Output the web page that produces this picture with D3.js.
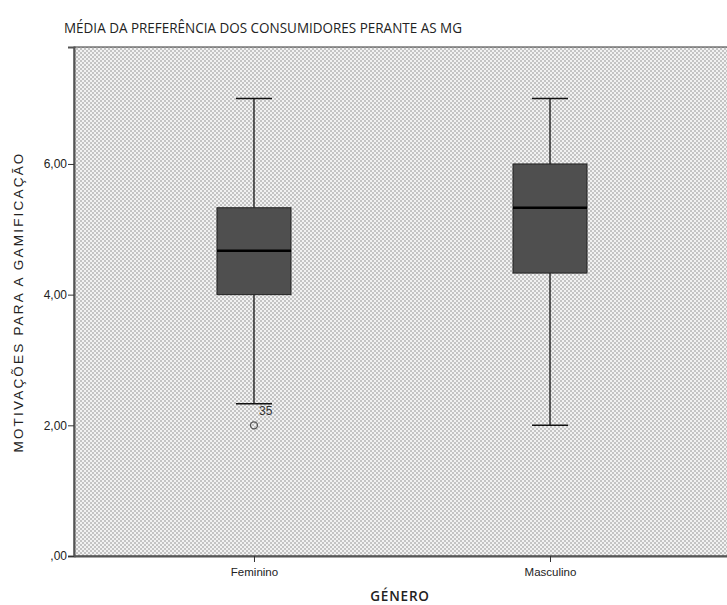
<!DOCTYPE html>
<html>
<head>
<meta charset="utf-8">
<script src="https://cdn.jsdelivr.net/npm/d3@7"></script>
<style>
  html, body { margin: 0; padding: 0; background: #fff; }
  svg { display: block; }
</style>
</head>
<body>
<svg id="chart" width="727" height="605"></svg>
<script>
// Box-plot summaries per group
const groups = ["Feminino", "Masculino"];
const whiskerLow  = [2.33, 2.0];
const quartile1   = [4.0, 4.33];
const medians     = [4.67, 5.33];
const quartile3   = [5.33, 6.0];
const whiskerHigh = [7.0, 7.0];
// Outliers: group, value, case label
const outlierGroup = ["Feminino"];
const outlierValue = [2.0];
const outlierCase  = ["35"];
const yTicks = [0, 2, 4, 6];

(function draw() {
  const svg = d3.select("#chart");
  const plotLeft = 74, plotRight = 730, plotTop = 47, plotBottom = 556;

  // Checkered fill of the plotting area
  const defs = svg.append("defs");
  const pat = defs.append("pattern")
    .attr("id", "checker").attr("patternUnits", "userSpaceOnUse")
    .attr("width", 4).attr("height", 4);
  pat.append("rect").attr("width", 4).attr("height", 4).attr("fill", "#f2f2f2");
  pat.append("rect").attr("x", 0).attr("y", 0).attr("width", 2).attr("height", 2).attr("fill", "#c4c4c4");
  pat.append("rect").attr("x", 2).attr("y", 2).attr("width", 2).attr("height", 2).attr("fill", "#c4c4c4");

  const x = d3.scalePoint().domain(groups).range([plotLeft, plotRight]).padding(0.608);
  const y = d3.scaleLinear().domain([0, 7.79]).range([plotBottom, plotTop]);

  svg.append("rect")
    .attr("x", plotLeft).attr("y", plotTop)
    .attr("width", plotRight - plotLeft).attr("height", plotBottom - plotTop)
    .attr("fill", "url(#checker)")
    .attr("stroke", "#333").attr("stroke-width", 1);

  // Axes
  const yAxis = d3.axisLeft(y).tickValues(yTicks).tickSize(6)
    .tickFormat(d => d === 0 ? ",00" : d3.format(".2f")(d).replace(".", ","));
  const gy = svg.append("g").attr("transform", `translate(${plotLeft},0)`).call(yAxis);
  gy.select(".domain").attr("stroke", "#555").attr("stroke-width", 2);
  gy.selectAll(".tick line").attr("stroke", "#333");
  gy.selectAll(".tick text").attr("font-family", "Liberation Sans, Arial, sans-serif")
    .attr("font-size", 12).attr("fill", "#222").attr("x", -7);

  const xAxis = d3.axisBottom(x).tickSize(6).tickSizeOuter(0);
  const gx = svg.append("g").attr("transform", `translate(0,${plotBottom})`).call(xAxis);
  gx.select(".domain").attr("stroke", "#555").attr("stroke-width", 2);
  gx.selectAll(".tick line").attr("stroke", "#333");
  gx.selectAll(".tick text").attr("font-family", "Liberation Sans, Arial, sans-serif")
    .attr("font-size", 11.5).attr("fill", "#222").attr("dy", "0.95em");

  // Boxes
  const boxW = 74, capW = 36;
  const data = groups.map((g, i) => ({
    g, lo: whiskerLow[i], q1: quartile1[i], med: medians[i], q3: quartile3[i], hi: whiskerHigh[i]
  }));
  const b = svg.append("g").selectAll("g").data(data).join("g")
    .attr("transform", d => `translate(${x(d.g)},0)`);

  b.append("line").attr("x1", 0).attr("x2", 0)
    .attr("y1", d => y(d.hi)).attr("y2", d => y(d.q3))
    .attr("stroke", "#111").attr("stroke-width", 1.3);
  b.append("line").attr("x1", 0).attr("x2", 0)
    .attr("y1", d => y(d.q1)).attr("y2", d => y(d.lo))
    .attr("stroke", "#111").attr("stroke-width", 1.3);
  b.append("line").attr("x1", -capW / 2).attr("x2", capW / 2)
    .attr("y1", d => y(d.hi)).attr("y2", d => y(d.hi))
    .attr("stroke", "#111").attr("stroke-width", 1.5);
  b.append("line").attr("x1", -capW / 2).attr("x2", capW / 2)
    .attr("y1", d => y(d.lo)).attr("y2", d => y(d.lo))
    .attr("stroke", "#111").attr("stroke-width", 1.5);
  b.append("rect")
    .attr("x", -boxW / 2).attr("width", boxW)
    .attr("y", d => y(d.q3)).attr("height", d => y(d.q1) - y(d.q3))
    .attr("fill", "#4f4f4f").attr("stroke", "#222").attr("stroke-width", 1);
  b.append("line").attr("x1", -boxW / 2).attr("x2", boxW / 2)
    .attr("y1", d => y(d.med)).attr("y2", d => y(d.med))
    .attr("stroke", "#000").attr("stroke-width", 2.5);

  // Outliers
  outlierValue.forEach((v, i) => {
    const cx = x(outlierGroup[i]);
    svg.append("circle").attr("cx", cx).attr("cy", y(v)).attr("r", 3.5)
      .attr("fill", "none").attr("stroke", "#555").attr("stroke-width", 1.3);
    svg.append("text").attr("x", cx + 5).attr("y", y(v) - 10)
      .attr("font-family", "Liberation Sans, Arial, sans-serif").attr("font-size", 12)
      .attr("fill", "#333").text(outlierCase[i]);
  });

  // Titles
  svg.append("text").attr("x", 64).attr("y", 33)
    .attr("font-family", "Open Sans, Noto Sans, sans-serif").attr("font-size", 15)
    .attr("textLength", 398).attr("lengthAdjust", "spacingAndGlyphs")
    .attr("fill", "#222").text("MÉDIA DA PREFERÊNCIA DOS CONSUMIDORES PERANTE AS MG");
  svg.append("text").attr("x", 400).attr("y", 601).attr("text-anchor", "middle")
    .attr("font-family", "Open Sans, Noto Sans, sans-serif").attr("font-size", 13.5)
    .attr("letter-spacing", 0.8)
    .attr("font-weight", 600).attr("fill", "#222").text("GÉNERO");
  svg.append("text")
    .attr("transform", "translate(23,302) rotate(-90)").attr("text-anchor", "middle")
    .attr("font-family", "Liberation Sans, Arial, sans-serif").attr("font-size", 13.5)
    .attr("letter-spacing", 2.2).attr("fill", "#222").text("MOTIVAÇÕES PARA A GAMIFICAÇÃO");
})();
</script>
</body>
</html>
